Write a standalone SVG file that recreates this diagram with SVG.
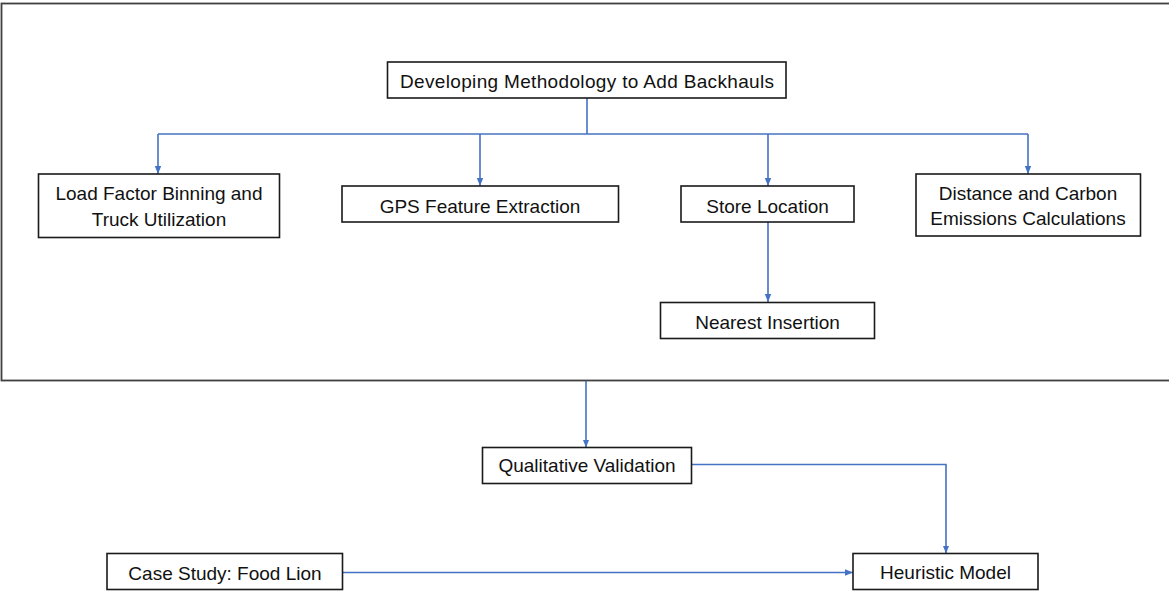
<svg xmlns="http://www.w3.org/2000/svg" width="1169" height="591" viewBox="0 0 1169 591">
  <style>
    .box { fill: #ffffff; stroke: #1a1a1a; stroke-width: 1.6; }
    .frame { fill: none; stroke: #404040; stroke-width: 1.8; }
    .lbl { font-family: "Liberation Sans", Arial, sans-serif; font-size: 19px; fill: #111111; text-anchor: middle; }
    .link { fill: none; stroke: #4472C4; stroke-width: 1.6; }
    .arrow { fill: none; stroke: #4472C4; stroke-width: 1.6; marker-end: url(#head); }
  </style>
  <defs>
    <marker id="head" markerUnits="userSpaceOnUse" markerWidth="8" markerHeight="8" viewBox="0 0 8 8" refX="8" refY="4" orient="auto">
      <path d="M0,0.8 L8,4 L0,7.2 Z" fill="#4472C4"/>
    </marker>
  </defs>

  <rect width="1169" height="591" fill="#ffffff"/>

  <!-- enclosing frame for the methodology stage -->
  <rect class="frame" x="1.5" y="3.5" width="1180" height="377"/>

  <g id="connectors">
    <path class="link" d="M587 98 V134"/>
    <path class="link" d="M158 134 H1028"/>
    <path class="arrow" d="M158 134 V174"/>
    <path class="arrow" d="M480 134 V186"/>
    <path class="arrow" d="M768 134 V186"/>
    <path class="arrow" d="M1028 134 V174"/>
    <path class="arrow" d="M768 222 V302"/>
    <path class="arrow" d="M586 381 V447.5"/>
    <path class="arrow" d="M691.5 464.5 H946 V553.5"/>
    <path class="arrow" d="M342.5 572.5 H853"/>
  </g>

  <g id="developing-methodology">
    <rect class="box" x="387.5" y="62" width="398.5" height="36"/>
    <text class="lbl" x="587" y="88" textLength="374" lengthAdjust="spacing">Developing Methodology to Add Backhauls</text>
  </g>

  <g id="load-factor">
    <rect class="box" x="38.5" y="174" width="241" height="63.5"/>
    <text class="lbl" x="159" y="200">Load Factor Binning and</text>
    <text class="lbl" x="159" y="225.5">Truck Utilization</text>
  </g>

  <g id="gps-feature">
    <rect class="box" x="342" y="186" width="276.5" height="36"/>
    <text class="lbl" x="480" y="212.5">GPS Feature Extraction</text>
  </g>

  <g id="store-location">
    <rect class="box" x="681" y="186" width="173" height="36"/>
    <text class="lbl" x="767.5" y="212.5">Store Location</text>
  </g>

  <g id="distance-carbon">
    <rect class="box" x="916" y="174" width="224.5" height="62"/>
    <text class="lbl" x="1028" y="200">Distance and Carbon</text>
    <text class="lbl" x="1028" y="225">Emissions Calculations</text>
  </g>

  <g id="nearest-insertion">
    <rect class="box" x="660.5" y="302.5" width="214" height="36"/>
    <text class="lbl" x="767.5" y="329">Nearest Insertion</text>
  </g>

  <g id="qualitative-validation">
    <rect class="box" x="482.5" y="447.5" width="209" height="36"/>
    <text class="lbl" x="587" y="471.5">Qualitative Validation</text>
  </g>

  <g id="case-study">
    <rect class="box" x="107" y="553.5" width="235.5" height="36"/>
    <text class="lbl" x="225" y="580">Case Study: Food Lion</text>
  </g>

  <g id="heuristic-model">
    <rect class="box" x="853" y="553.5" width="185" height="36"/>
    <text class="lbl" x="945.5" y="578.5">Heuristic Model</text>
  </g>
</svg>
